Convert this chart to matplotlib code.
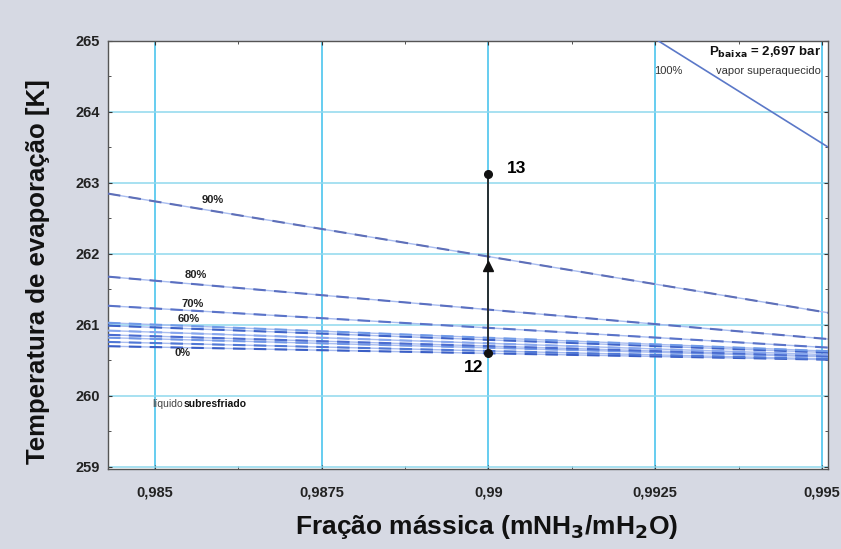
import matplotlib
matplotlib.use("Agg")
import matplotlib.pyplot as plt
import numpy as np
from matplotlib.ticker import FuncFormatter, MultipleLocator

plt.rcParams['font.family'] = ['Liberation Sans', 'DejaVu Sans']

# Data
x_ends = [0.9843, 0.9951]
quality_labels = ["0%", "10%", "20%", "30%", "40%", "50%", "60%", "70%", "80%", "90%"]
T_left = [260.70, 260.76, 260.82, 260.86, 260.92, 260.99, 261.03, 261.27, 261.68, 262.85]
T_right = [260.51, 260.52, 260.55, 260.56, 260.58, 260.61, 260.63, 260.68, 260.80, 261.17]
x_100 = [0.99255, 0.9951]
T_100 = [265.0, 263.50]
proc_x = [0.99, 0.99]
proc_T = [260.60, 263.12]
arrow_T = 261.83
xticks = [0.985, 0.9875, 0.99, 0.9925, 0.995]
yticks = [259, 260, 261, 262, 263, 264, 265]

line_colors = ['#3b5fc6', '#5078d6', '#7096e6', '#4a6cd0', '#86a6ee', '#3f63c8',
               '#6f9ae8', '#5a73c8', '#5a6fc0', '#5e6fb8']

fig = plt.figure(figsize=(8.41, 5.49), dpi=100)
fig.patch.set_facecolor('#d6d9e3')
ax = fig.add_axes([108/841, 1-469/549, (828-108)/841, (469-41)/549])
ax.set_facecolor('white')

ax.set_xlim(0.9843, 0.99509)
ax.set_ylim(258.97, 265.0)

for i in range(len(quality_labels)):
    c = line_colors[i]
    ax.plot(x_ends, [T_left[i], T_right[i]], color='#a9bdf0', lw=1.0, zorder=2)
    ax.plot(x_ends, [T_left[i], T_right[i]], color=c, lw=1.5, dashes=(6, 4), zorder=3)
ax.plot(x_100, T_100, color='#5b78c8', lw=1.2, zorder=3)

# process 12 -> 13
ax.plot(proc_x, proc_T, color='#222222', lw=1.3, zorder=5)
ax.plot(proc_x, proc_T, 'o', color='#111111', ms=5.5, zorder=6)
ax.plot([proc_x[0]], [arrow_T], '^', color='#111111', ms=6.5, zorder=6)
ax.text(0.99028, 263.10, "13", fontsize=12.5, fontweight='bold', va='bottom', ha='left', zorder=7)
ax.text(0.98993, 260.50, "12", fontsize=12.5, fontweight='bold', va='top', ha='right', zorder=7)

# labels
lab_pos = {"90%": (0.9857, 262.76), "80%": (0.98545, 261.7), "70%": (0.98540, 261.3),
           "60%": (0.98535, 261.08), "0%": (0.98530, 260.60)}
for k, (xx, yy) in lab_pos.items():
    ax.text(xx, yy, k, fontsize=8, fontweight='bold', color='#222222', va='center', ha='left')
ax.text(0.98496, 259.88, "líquido", fontsize=7.5, color='#444444', va='center', ha='left')
ax.text(0.98544, 259.88, "subresfriado", fontsize=7.5, fontweight='bold', color='#111111', va='center', ha='left')
ax.text(0.99249, 264.58, "100%", fontsize=8, color='#333333', va='center', ha='left')
ax.text(0.99498, 264.58, "vapor superaquecido", fontsize=8, color='#333333', va='center', ha='right')
ax.text(0.99498, 264.84, r"P$_{\mathbf{baixa}}$ = 2,697 bar", fontsize=9.5, fontweight='bold',
        color='#111111', va='center', ha='right')

# grid and ticks
ax.set_xticks(xticks)
ax.set_yticks(yticks)
ax.xaxis.set_minor_locator(MultipleLocator(0.00125))
ax.yaxis.set_minor_locator(MultipleLocator(0.5))
ax.grid(True, which='major', axis='x', color='#3cc0ec', lw=1.1, zorder=1)
ax.grid(True, which='major', axis='y', color='#8fd8ee', lw=1.1, zorder=1)
ax.set_axisbelow(True)
ax.xaxis.set_major_formatter(FuncFormatter(lambda v, p: ('%g' % v).replace('.', ',')))
ax.yaxis.set_major_formatter(FuncFormatter(lambda v, p: '%d' % v))
ax.tick_params(axis='both', which='major', labelsize=10.5, length=3, direction='in', top=True, right=True,
               colors='#333333', labelcolor='#222222')
ax.tick_params(axis='both', which='minor', length=2, direction='in', top=True, right=True, colors='#333333')
for lbl in ax.get_xticklabels() + ax.get_yticklabels():
    lbl.set_fontweight('bold')
ax.tick_params(axis='x', pad=12)
ax.tick_params(axis='y', pad=6)
for s in ax.spines.values():
    s.set_color('#555555')
    s.set_linewidth(1.0)

ax.set_xlabel(r"Fração mássica (mNH$_\mathbf{3}$/mH$_\mathbf{2}$O)", fontsize=19, fontweight='bold',
              color='#111111')
ax.xaxis.set_label_coords((487-108)/720, (469-513)/428)
ax.set_ylabel("Temperatura de evaporação [K]", fontsize=18.5, fontweight='bold', color='#111111')
ax.yaxis.set_label_coords((50-108)/720, 0.5 - 17/428)

fig.savefig("out.png", dpi=100, facecolor=fig.get_facecolor())
